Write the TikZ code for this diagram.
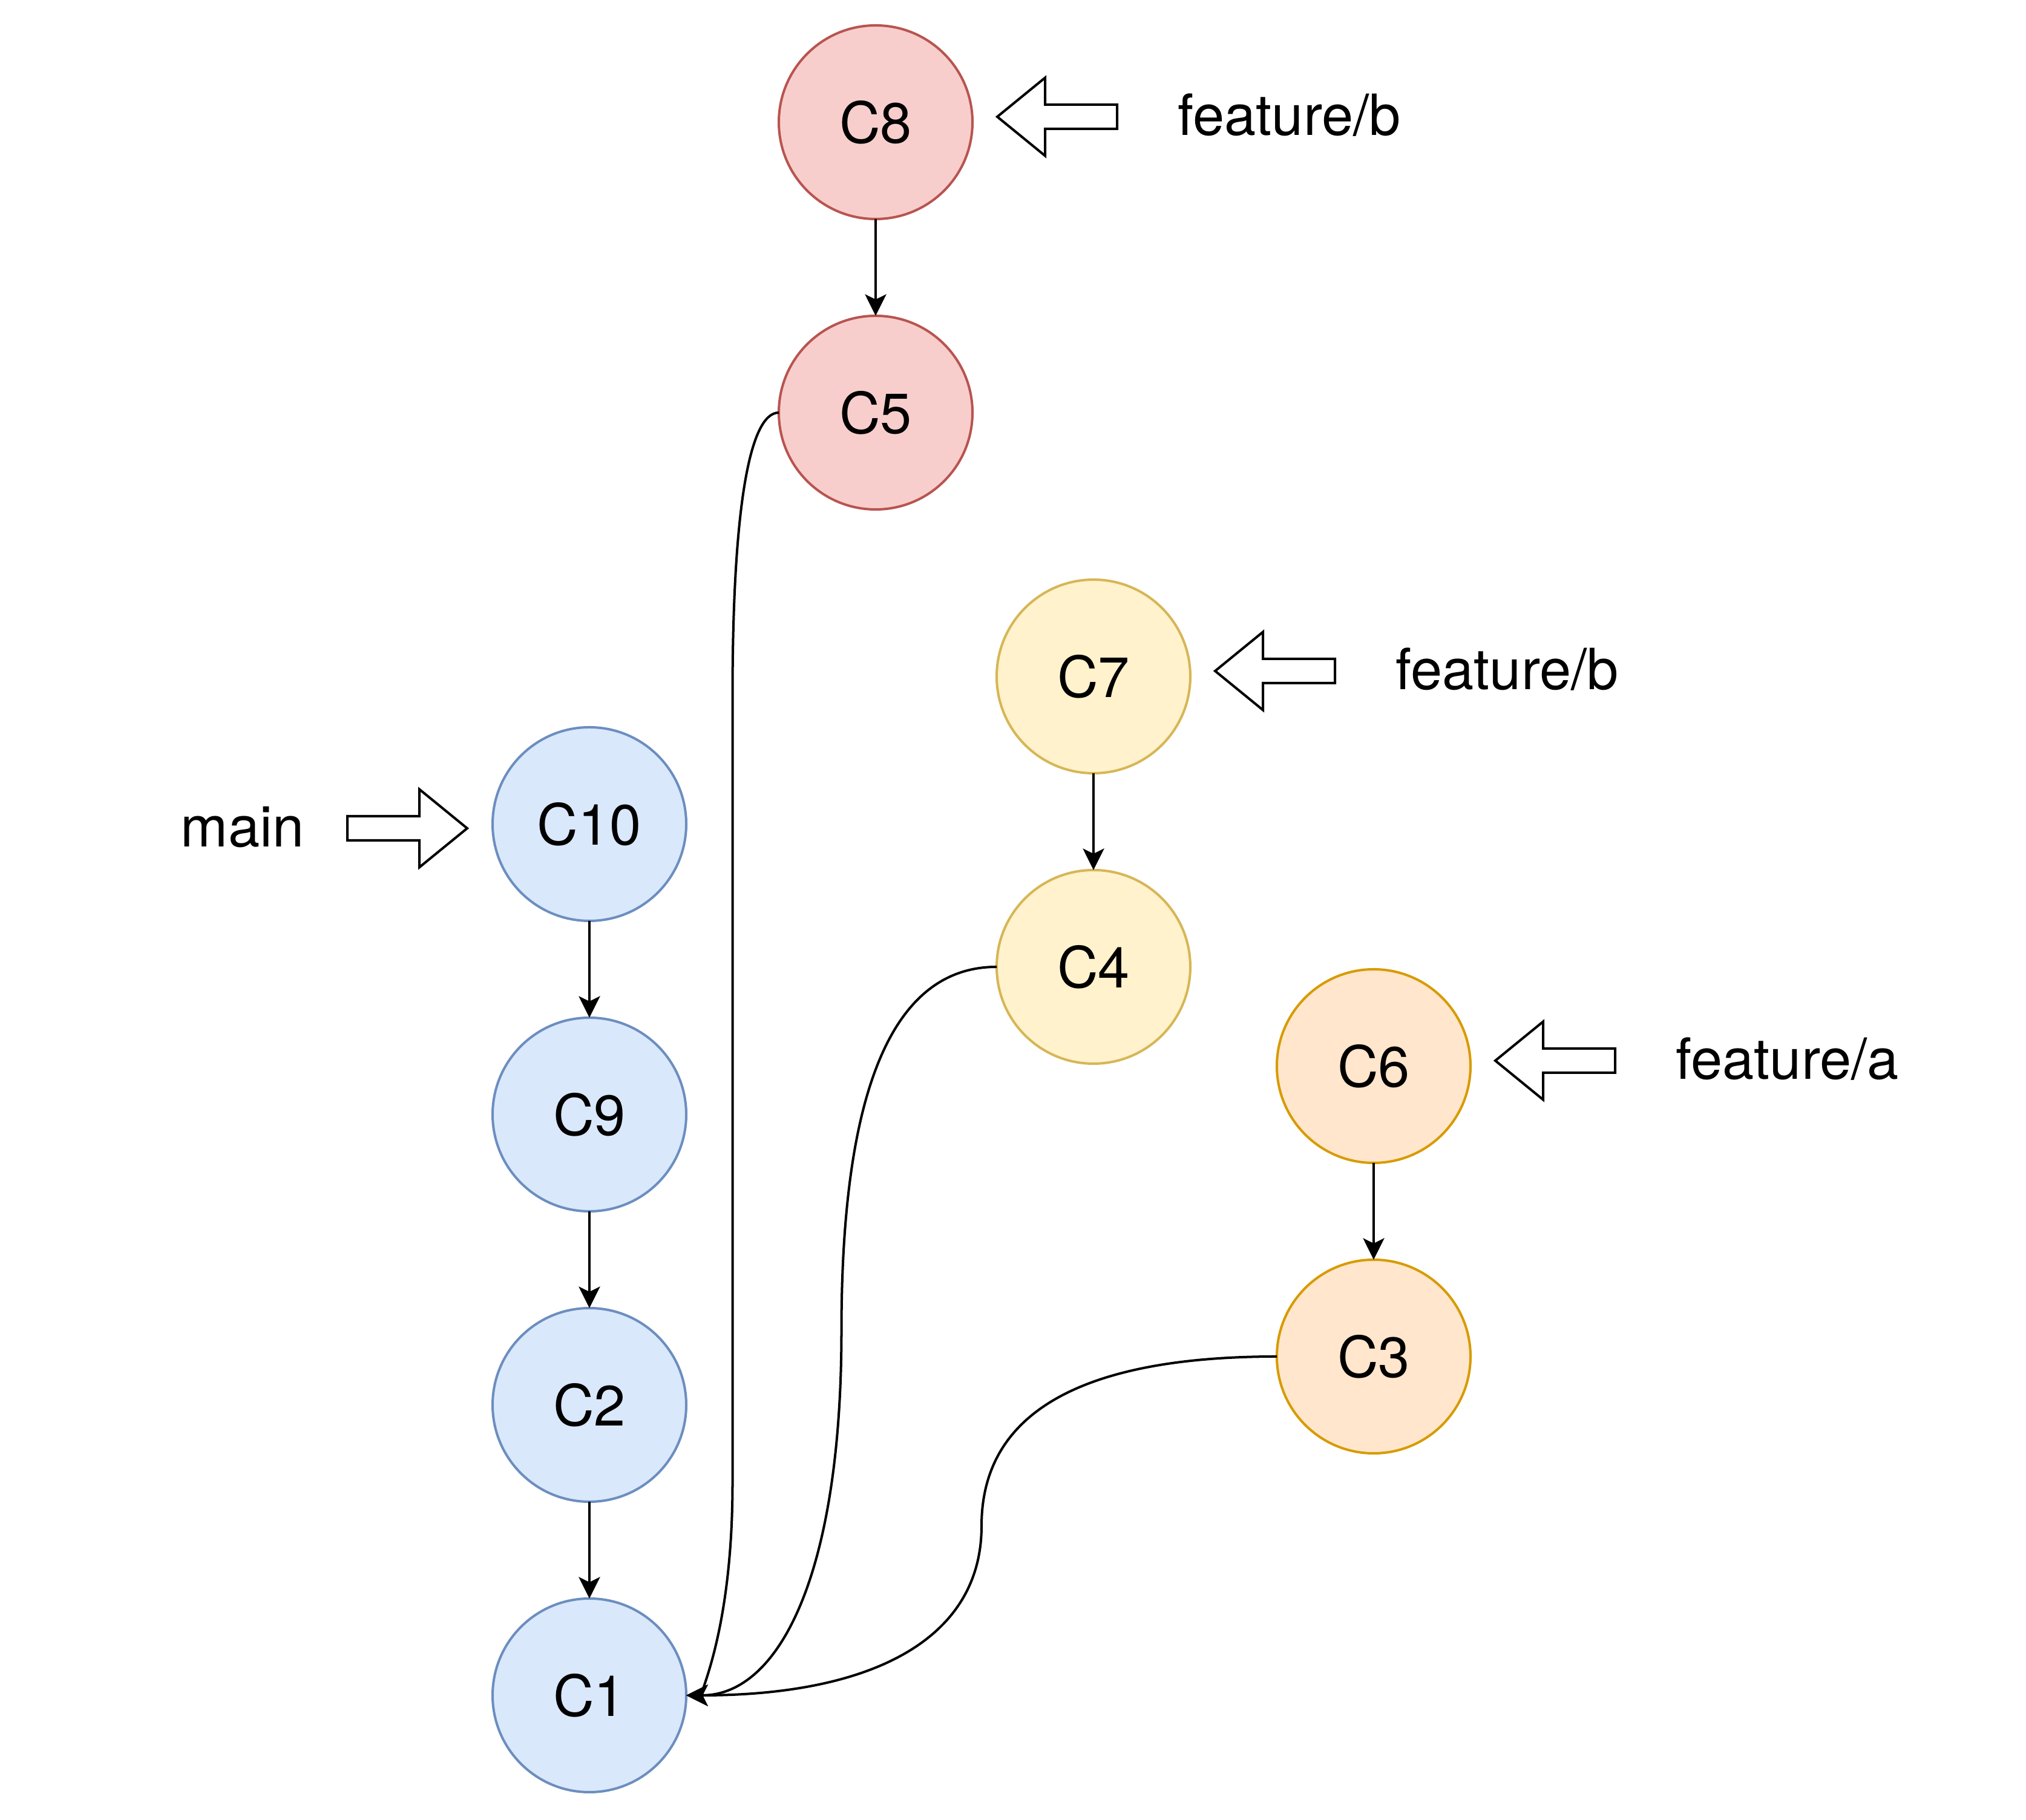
\documentclass[tikz,border=0pt]{standalone}
\usepackage{fontspec}
\setmainfont{TeX Gyre Heros}
\usetikzlibrary{arrows.meta,calc,positioning}
\definecolor{redbg}{HTML}{F8CECC}\definecolor{redln}{HTML}{B85450}
\definecolor{yelbg}{HTML}{FFF2CC}\definecolor{yelln}{HTML}{D6B656}
\definecolor{orabg}{HTML}{FFE6CC}\definecolor{oraln}{HTML}{D79B00}
\definecolor{blubg}{HTML}{DAE8FC}\definecolor{bluln}{HTML}{6C8EBF}
\tikzset{
  commit/.style={circle,draw,line width=1.14pt,minimum size=3.2cm,inner sep=0pt,outer sep=0pt,font=\fontsize{26.7}{32}\selectfont},
  cmain/.style={commit,draw=bluln,fill=blubg},
  cfa/.style={commit,draw=oraln,fill=orabg},
  cfb/.style={commit,draw=yelln,fill=yelbg},
  cfbb/.style={commit,draw=redln,fill=redbg},
  ref/.style={inner sep=0pt,font=\fontsize{26.7}{32}\selectfont},
  link/.style={->,line width=1.14pt},
  ptr/.pic={\draw[line width=1.14pt,fill=white] (0,0) -- (0.79,0.645) -- (0.79,0.2) -- (1.98,0.2) -- (1.98,-0.2) -- (0.79,-0.2) -- (0.79,-0.645) -- cycle;}
}
\begin{document}
\begin{tikzpicture}[>={Stealth[length=0.355cm,width=0.35cm,inset=0.085cm]},node distance=1.6cm]
\useasboundingbox (0,0) rectangle (33.48,30.08);
% main line
\node[cmain] (C1) at (9.74,2.06) {C1};
\node[cmain,above=of C1] (C2) {C2};
\node[cmain,above=of C2] (C9) {C9};
\node[cmain,above=of C9] (C10) {C10};
% feature/a
\node[cfa] (C3) at (22.70,7.66) {C3};
\node[cfa,above=of C3] (C6) {C6};
% feature/b (yellow)
\node[cfb] (C4) at (18.07,14.10) {C4};
\node[cfb,above=of C4] (C7) {C7};
% feature/b (red)
\node[cfbb] (C5) at (14.47,23.26) {C5};
\node[cfbb,above=of C5] (C8) {C8};

\draw[link] (C8) -- (C5);
\draw[link] (C7) -- (C4);
\draw[link] (C6) -- (C3);
\draw[link] (C10) -- (C9);
\draw[link] (C9) -- (C2);
\draw[link] (C2) -- (C1);

% branches back to C1
\coordinate (k5) at ($(C5.west)!0.5!(C1.east)$);
\coordinate (k5a) at ($(k5 |- C5.west)+(0,-4.68)$);
\coordinate (k5b) at ($(k5 |- C1.east)+(0,3.51)$);
\coordinate (k4) at ($(C4.west)!0.5!(C1.east)$);
\coordinate (k3) at ($(C3.west)!0.5!(C1.east)$);
\draw[link] (C5.west) to[out=180,in=90,out distance=0.5cm,in distance=3cm] (k5a) -- (k5b) to[out=-90,in=0,out distance=2.5cm,in distance=0.19cm] (C1.east);
\draw[link] (C4.west) to[out=180,in=90,out distance=1.71cm,in distance=4.01cm] (k4) to[out=-90,in=0,out distance=4.01cm,in distance=1.54cm] (C1.east);
\draw[link] (C3.west) to[out=180,in=90,out distance=3.25cm,in distance=1.86cm] (k3) to[out=-90,in=0,out distance=1.86cm,in distance=3.09cm] (C1.east);

% branch pointers
\pic at ($(C8.east)+(0.41,0.09)$) {ptr};
\pic at ($(C7.east)+(0.41,0.09)$) {ptr};
\pic at ($(C6.east)+(0.41,0.09)$) {ptr};
\pic[rotate=180] at ($(C10.west)+(-0.42,-0.07)$) {ptr};
\node[ref,anchor=base west] (bB) at ($(C8.east)+(3.39,-0.22)$) {feature/b};
\node[ref,anchor=base west] (bB2) at ($(C7.east)+(3.39,-0.22)$) {feature/b};
\node[ref,anchor=base west] (bA) at ($(C6.east)+(3.39,-0.22)$) {feature/a};
\node[ref,anchor=base east] (bM) at ($(C10.west)+(-3.11,-0.38)$) {main};
\end{tikzpicture}
\end{document}
